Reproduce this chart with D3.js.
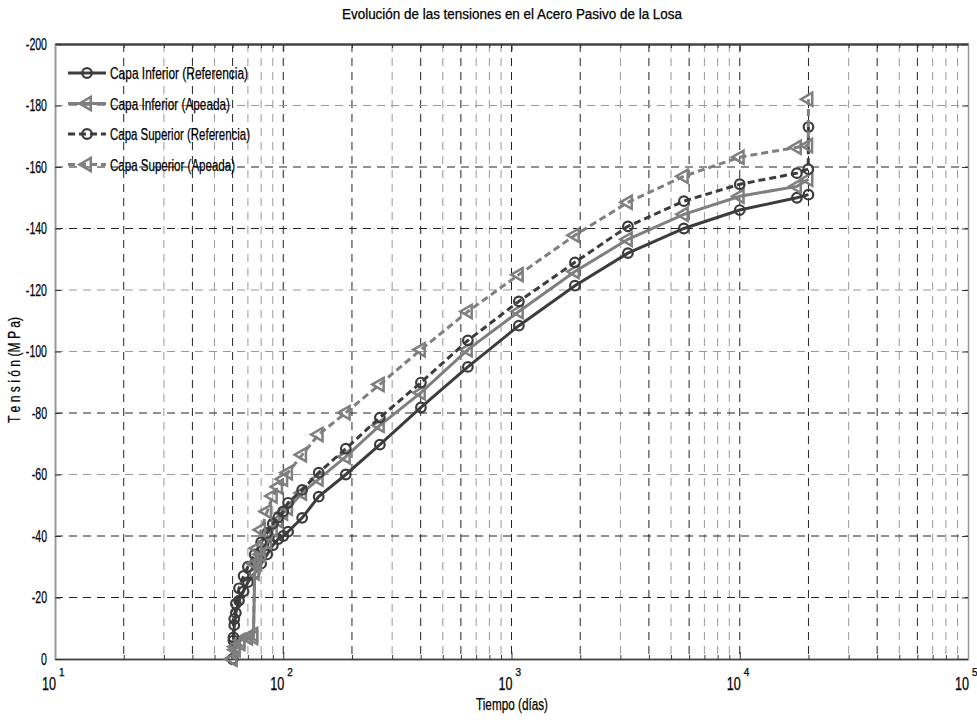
<!DOCTYPE html>
<html><head><meta charset="utf-8">
<script src="https://cdn.jsdelivr.net/npm/d3@7"></script>
<style>
body{margin:0;background:#fff;}
text{font-family:"Liberation Sans",Arial,sans-serif;fill:#000;stroke:#000;stroke-width:0.25px;}
</style></head><body>
<svg id="c" width="977" height="720"></svg>
<script>
const titleText = "Evolución de las tensiones en el Acero Pasivo de la Losa";
const xLabel = "Tiempo (días)";
const yLabel = "T e n s i ó n   (M P a)";
const legendLabels = ["Capa Inferior (Referencia)","Capa Inferior (Apeada)","Capa Superior (Referencia)","Capa Superior (Apeada)"];
const yTicks = [0,-20,-40,-60,-80,-100,-120,-140,-160,-180,-200];
const xDecades = [1,2,3,4,5];

// Capa Inferior (Referencia)
const tCIRef = [60,60.5,61,62,64,67,70,75,80,85,90,95,100,105,121,143,188,265,401,644,1077,1896,3236,5690,10000,17800,20000];
const vCIRef = [0,-6,-11,-15,-19,-22,-25,-28,-31,-34,-37,-39,-40,-41.4,-45.9,-52.8,-60,-69.7,-81.8,-95,-108.4,-121.4,-132,-140,-146,-150,-151];
// Capa Inferior (Apeada)
const tCIApe = [60,62,65,70,74,75,77,80,85,90,95,100,105,121,143,188,265,401,644,1077,1896,3236,5690,10000,17800,20000];
const vCIApe = [0,-4,-6,-7,-7,-28,-31,-34,-38,-42,-45,-47.5,-49,-54,-58.5,-65.8,-76,-86.6,-100.6,-113,-126,-136.5,-144.6,-150.5,-153.7,-156];
// Capa Superior (Referencia)
const tCSRef = [60,60.5,61,62,64,67,70,75,80,85,90,95,100,105,121,143,188,265,401,644,1077,1896,3236,5690,10000,17800,19950,20000];
const vCSRef = [0,-7,-13,-18,-23,-27,-30,-34,-38,-41,-44,-46,-48,-50.8,-55,-60.6,-68.4,-78.5,-89.9,-103.6,-116.3,-129,-140.7,-148.9,-154.4,-158,-159.3,-173];
// Capa Superior (Apeada)
const tCSApe = [60,62,65,70,74,75,77,80,85,90,95,100,105,121,143,188,265,401,644,1077,1896,3236,5690,10000,17800,19950,20000];
const vCSApe = [0,-3,-5,-7,-8,-31,-36,-42,-48,-53,-56,-58.5,-60.6,-66.4,-73,-80.1,-89.3,-100.6,-113,-125,-137.8,-148.5,-157,-163.2,-166.4,-167,-182];

const svg = d3.select("#c");
const L=55,R=968,T=44,B=659;
const x = d3.scaleLog().domain([10,1e5]).range([L,R]);
const y = d3.scaleLinear().domain([0,-200]).range([B,T]);

function narrow(sel, f){ sel.each(function(){ const w=this.getComputedTextLength(); d3.select(this).attr("textLength",w*f).attr("lengthAdjust","spacingAndGlyphs"); }); }

// grid
const minorVals=[];
xDecades.slice(0,4).forEach(d=>{for(let m=2;m<=9;m++) minorVals.push(m*Math.pow(10,d));});
const darkMult = {2:1,4:1,6:1};
const g = svg.append("g");
[100,1000,10000].forEach(v=>g.append("line").attr("x1",x(v)).attr("x2",x(v)).attr("y1",T).attr("y2",B)
  .attr("stroke","#222").attr("stroke-dasharray","8,6"));
minorVals.forEach(v=>{const m=Math.round(v/Math.pow(10,Math.floor(Math.log10(v)+1e-9)));
  g.append("line").attr("x1",x(v)).attr("x2",x(v)).attr("y1",T).attr("y2",B)
  .attr("stroke",darkMult[m]?"#222":"#999").attr("stroke-dasharray","8,6");});
const darkY = {"-20":1,"-40":1,"-80":1,"-140":1,"-160":1};
yTicks.filter(v=>v!==0&&v!==-200).forEach(v=>g.append("line").attr("x1",L).attr("x2",R).attr("y1",y(v)).attr("y2",y(v))
  .attr("stroke",darkY[v]?"#222":"#999").attr("stroke-dasharray","8,6"));

// axes
const xTickVals = xDecades.map(d=>Math.pow(10,d));
const axB = svg.append("g").attr("transform",`translate(0,${B})`)
  .call(d3.axisBottom(x).tickValues(xTickVals).tickSizeInner(-7).tickSizeOuter(0).tickFormat(""));
const axBm = svg.append("g").attr("transform",`translate(0,${B})`)
  .call(d3.axisBottom(x).tickValues(minorVals).tickSizeInner(-4).tickSizeOuter(0).tickFormat(""));
const axT = svg.append("g").attr("transform",`translate(0,${T})`)
  .call(d3.axisTop(x).tickValues(xTickVals).tickSizeInner(-7).tickSizeOuter(0).tickFormat(""));
const axTm = svg.append("g").attr("transform",`translate(0,${T})`)
  .call(d3.axisTop(x).tickValues(minorVals).tickSizeInner(-4).tickSizeOuter(0).tickFormat(""));
const axL = svg.append("g").attr("transform",`translate(${L},0)`)
  .call(d3.axisLeft(y).tickValues(yTicks).tickSizeInner(-6).tickSizeOuter(0).tickPadding(8).tickFormat(d=>d));
const axR = svg.append("g").attr("transform",`translate(${R},0)`)
  .call(d3.axisRight(y).tickValues(yTicks).tickSizeInner(-6).tickSizeOuter(0).tickFormat(""));
[axB,axBm,axT,axTm,axL,axR].forEach(a=>{a.select(".domain").attr("stroke","#444").attr("stroke-width",1.5);
  a.selectAll(".tick line").attr("stroke","#333");});
axT.select(".domain").attr("stroke","#555").attr("stroke-width",2.5);
axL.select(".domain").attr("stroke","#999").attr("stroke-width",2);
axR.select(".domain").attr("stroke","#999").attr("stroke-width",1.5);
axL.selectAll(".tick text").style("font-family","'Liberation Sans',Arial,sans-serif").style("font-size","16px").attr("fill","#000");
narrow(axL.selectAll(".tick text"),0.66);

// x tick labels with exponents (single text element each)
xDecades.forEach(d=>{
  const t = svg.append("text").attr("x",x(Math.pow(10,d))-13).attr("y",690).style("font-size","18px");
  t.append("tspan").text("10").attr("textLength",14).attr("lengthAdjust","spacingAndGlyphs");
  t.append("tspan").attr("dx",3).attr("dy",-14).style("font-size","10px").text(d);
});

// titles
svg.append("text").attr("x",512).attr("y",19).attr("text-anchor","middle").style("font-size","14px").text(titleText)
  .attr("textLength",340).attr("lengthAdjust","spacingAndGlyphs");
svg.append("text").attr("x",512).attr("y",710).attr("text-anchor","middle").style("font-size","16px").text(xLabel)
  .attr("textLength",72).attr("lengthAdjust","spacingAndGlyphs");
svg.append("text").attr("transform","translate(20,370) rotate(-90)").attr("text-anchor","middle").style("font-size","16px").text(yLabel)
  .attr("textLength",106).attr("lengthAdjust","spacingAndGlyphs");

// series
const DARK="#3c3c3c", GRAY="#7f7f7f";
const series = [
  {t:tCIRef,v:vCIRef,color:DARK,dash:null,marker:"circle"},
  {t:tCIApe,v:vCIApe,color:GRAY,dash:null,marker:"tri"},
  {t:tCSRef,v:vCSRef,color:DARK,dash:"7,4",marker:"circle"},
  {t:tCSApe,v:vCSApe,color:GRAY,dash:"7,4",marker:"tri"}
];
const line = d3.line().x(d=>x(d[0])).y(d=>y(d[1]));
const triPath = d3.symbol().type(d3.symbolTriangle).size(75)();
function drawMarker(sel,s,cx,cy){
  if(s.marker==="circle"){
    sel.append("circle").attr("cx",cx).attr("cy",cy).attr("r",4.8).attr("fill","none").attr("stroke",s.color).attr("stroke-width",2.2);
  } else {
    sel.append("path").attr("d",triPath).attr("transform",`translate(${cx},${cy}) rotate(-90)`).attr("fill","none").attr("stroke",s.color).attr("stroke-width",2.5);
  }
}
const plot = svg.append("g");
series.forEach(s=>{
  const pts = s.t.map((t,i)=>[t,s.v[i]]);
  plot.append("path").attr("d",line(pts)).attr("fill","none").attr("stroke",s.color).attr("stroke-width",3)
    .attr("stroke-dasharray",s.dash);
  const mg = plot.append("g");
  pts.forEach(p=>drawMarker(mg,s,x(p[0]),y(p[1])));
});

// legend
const lg = svg.append("g");
const legW=[138,120,140,125];
legendLabels.forEach((lab,i)=>{
  const s=series[i], yy=73+i*30.5;
  lg.append("line").attr("x1",68).attr("x2",106).attr("y1",yy).attr("y2",yy).attr("stroke",s.color).attr("stroke-width",3).attr("stroke-dasharray",s.dash);
  drawMarker(lg,s,87,yy);
  lg.append("text").attr("x",110).attr("y",yy+6).style("font-size","16px").text(lab)
    .attr("textLength",legW[i]).attr("lengthAdjust","spacingAndGlyphs");
});
</script></body></html>
